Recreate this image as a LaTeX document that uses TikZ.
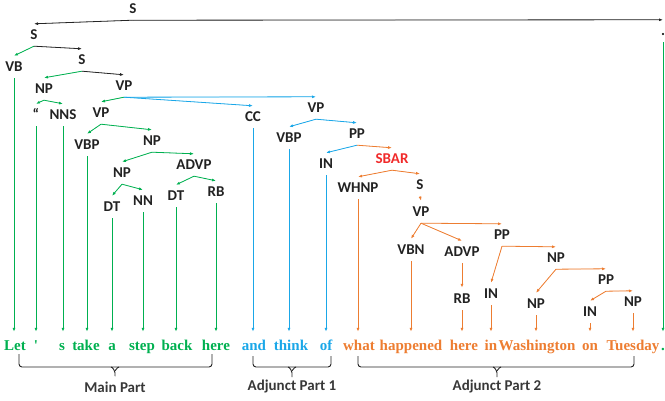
\documentclass[tikz,border=0pt]{standalone}
\usepackage{fontspec}
\setmainfont{Liberation Serif}
\newfontfamily\wordfont{Liberation Serif}[BoldFont={Liberation Serif Bold}]
\newfontfamily\labfont{Carlito}
\usetikzlibrary{arrows.meta}
\definecolor{cgreen}{HTML}{00B050}
\definecolor{cblue}{HTML}{1AA7E8}
\definecolor{corange}{HTML}{ED7D31}
\definecolor{cred}{HTML}{F02A2A}
\definecolor{clab}{HTML}{222222}
\begin{document}
\begin{tikzpicture}[x=1pt,y=-1pt,
  lab/.style={font=\labfont\bfseries\fontsize{15}{15}\selectfont, text=clab, inner xsep=1pt, inner ysep=6.15pt, text height=9.7pt, text depth=0pt, anchor=center},
  word/.style={font=\wordfont\bfseries\fontsize{15}{15}\selectfont, anchor=base, inner xsep=0pt, inner ysep=7.5pt, text height=10.5pt, text depth=3pt},
  edge/.style={line width=0.8pt, -{Latex[length=4pt,width=3pt]}},
  ge/.style={edge, draw=cgreen, fill=cgreen},
  be/.style={edge, draw=cblue, fill=cblue},
  oe/.style={edge, draw=corange, fill=corange},
  ke/.style={edge, draw=black!85, fill=black!85},
  brk/.style={draw=clab, line width=0.9pt, rounded corners=3pt},
  partlab/.style={font=\labfont\bfseries\fontsize{15}{15}\selectfont, text=clab!90, inner sep=0pt, anchor=center}
]
\useasboundingbox (0,0) rectangle (665,401);

% ---- tree labels ----
\node[lab] (s1) at (133,9) {S};
\node[lab] (s2) at (34,35) {S};
\node[lab] (vb) at (14,67) {VB};
\node[lab] (s3) at (82,60) {S};
\node[lab] (np1) at (44,89) {NP};
\node[lab] (vp1) at (124,86) {VP};
\node[lab] (quote) at (36,115) {“};
\node[lab] (nns) at (63,115) {NNS};
\node[lab] (vp2) at (101,113) {VP};
\node[lab] (vbp1) at (87,145) {VBP};
\node[lab] (np2) at (152,141) {NP};
\node[lab] (np3) at (122,173) {NP};
\node[lab] (advp1) at (194,165) {ADVP};
\node[lab] (dt1) at (112,207) {DT};
\node[lab] (nn) at (143,201) {NN};
\node[lab] (dt2) at (176,196) {DT};
\node[lab] (rb1) at (216,192) {RB};
\node[lab] (cc) at (253,117) {CC};
\node[lab] (vp3) at (316,108) {VP};
\node[lab] (vbp2) at (289,138) {VBP};
\node[lab] (pp1) at (357,134) {PP};
\node[lab] (in1) at (326,164) {IN};
\node[lab,text=cred] (sbar) at (392,159) {SBAR};
\node[lab] (whnp) at (358,188) {WHNP};
\node[lab] (s4) at (420,185) {S};
\node[lab] (vp4) at (421,212) {VP};
\node[lab] (vbn) at (411,250) {VBN};
\node[lab] (advp2) at (462,252) {ADVP};
\node[lab] (pp2) at (502,235) {PP};
\node[lab] (rb2) at (462,299) {RB};
\node[lab] (in2) at (491,294) {IN};
\node[lab] (np4) at (556,258) {NP};
\node[lab] (np5) at (536,304) {NP};
\node[lab] (pp3) at (606,280) {PP};
\node[lab] (in3) at (590,312) {IN};
\node[lab] (np6) at (633,302) {NP};
\node[lab] (dot) at (663,31) {.};

% ---- words ----
\node[word,text=cgreen] (w1) at (15,350) {Let};
\node[word,text=cgreen] (w2) at (36,350) {\textquotesingle};
\node[word,text=cgreen] (w3) at (62,350) {s};
\node[word,text=cgreen] (w4) at (86,350) {take};
\node[word,text=cgreen] (w5) at (112,350) {a};
\node[word,text=cgreen] (w6) at (142,350) {step};
\node[word,text=cgreen] (w7) at (177,350) {back};
\node[word,text=cgreen] (w8) at (216,350) {here};
\node[word,text=cblue] (w9) at (254,350) {and};
\node[word,text=cblue] (w10) at (291,350) {think};
\node[word,text=cblue] (w11) at (326,350) {of};
\node[word,text=corange] (w12) at (359,350) {what};
\node[word,text=corange] (w13) at (411,350) {happened};
\node[word,text=corange] (w14) at (464,350) {here};
\node[word,text=corange] (w15) at (491,350) {in};
\node[word,text=corange] (w16) at (537,350) {Washington};
\node[word,text=corange] (w17) at (590,350) {on};
\node[word,text=corange] (w18) at (633,350) {Tuesday};
\node[word,text=cgreen] (w19) at (663,350) {.};

% ---- tree edges ----
\draw[ke] (s1.south) -- (s2.north);
\draw[ke] (s1.south) -- (dot.north);
\draw[ge] (s2.south) -- (vb.north);
\draw[ke] (s2.south) -- (s3.north);
\draw[ge] (s3.south) -- (np1.north);
\draw[ke] (s3.south) -- (vp1.north);
\draw[ge] (np1.south) -- (quote.north);
\draw[ge] (np1.south) -- (nns.north);
\draw[ge] (vp1.south) -- (vp2.north);
\draw[be] (vp1.south) -- (cc.north);
\draw[be] (vp1.south) -- (vp3.north);
\draw[ge] (vp2.south) -- (vbp1.north);
\draw[ge] (vp2.south) -- (np2.north);
\draw[ge] (np2.south) -- (np3.north);
\draw[ge] (np2.south) -- (advp1.north);
\draw[ge] (np3.south) -- (dt1.north);
\draw[ge] (np3.south) -- (nn.north);
\draw[ge] (advp1.south) -- (dt2.north);
\draw[ge] (advp1.south) -- (rb1.north);
\draw[be] (vp3.south) -- (vbp2.north);
\draw[be] (vp3.south) -- (pp1.north);
\draw[be] (pp1.south) -- (in1.north);
\draw[oe] (pp1.south) -- (sbar.north);
\draw[oe] (sbar.south) -- (whnp.north);
\draw[oe] (sbar.south) -- (s4.north);
\draw[oe] (s4.south) -- (vp4.north);
\draw[oe] (vp4.south) -- (vbn.north);
\draw[oe] (vp4.south) -- (advp2.north);
\draw[oe] (vp4.south) -- (pp2.north);
\draw[oe] (advp2.south) -- (rb2.north);
\draw[oe] (pp2.south) -- (in2.north);
\draw[oe] (pp2.south) -- (np4.north);
\draw[oe] (np4.south) -- (np5.north);
\draw[oe] (np4.south) -- (pp3.north);
\draw[oe] (pp3.south) -- (in3.north);
\draw[oe] (pp3.south) -- (np6.north);

% ---- leaf edges ----
\draw[ge] (vb.south) -- (vb.south |- w1.north);
\draw[ge] (quote.south) -- (quote.south |- w2.north);
\draw[ge] (nns.south) -- (nns.south |- w3.north);
\draw[ge] (vbp1.south) -- (vbp1.south |- w4.north);
\draw[ge] (dt1.south) -- (dt1.south |- w5.north);
\draw[ge] (nn.south) -- (nn.south |- w6.north);
\draw[ge] (dt2.south) -- (dt2.south |- w7.north);
\draw[ge] (rb1.south) -- (rb1.south |- w8.north);
\draw[be] (cc.south) -- (cc.south |- w9.north);
\draw[be] (vbp2.south) -- (vbp2.south |- w10.north);
\draw[be] (in1.south) -- (in1.south |- w11.north);
\draw[oe] (whnp.south) -- (whnp.south |- w12.north);
\draw[oe] (vbn.south) -- (vbn.south |- w13.north);
\draw[oe] (rb2.south) -- (rb2.south |- w14.north);
\draw[oe] (in2.south) -- (in2.south |- w15.north);
\draw[oe] (np5.south) -- (np5.south |- w16.north);
\draw[oe] (in3.south) -- (in3.south |- w17.north);
\draw[oe] (np6.south) -- (np6.south |- w18.north);
\draw[ge] (dot.south) -- (dot.south |- w19.north);

% ---- brackets ----
\draw[brk] (19,354) -- (19,367) -- (212,367) -- (212,354);
\draw[brk] (111,367) to[out=0,in=-90] (115,370) -- (115,376);
\draw[brk] (119,367) to[out=180,in=-90] (115,370);
\draw[brk] (253,356) -- (253,367) -- (331,367) -- (331,356);
\draw[brk] (288,367) to[out=0,in=-90] (292,370) -- (292,377);
\draw[brk] (296,367) to[out=180,in=-90] (292,370);
\draw[brk] (358,356) -- (358,367) -- (634,367) -- (634,356);
\draw[brk] (493,367) to[out=0,in=-90] (497,370) -- (497,377);
\draw[brk] (501,367) to[out=180,in=-90] (497,370);
\node[partlab] (main) at (115,387) {Main Part};
\node[partlab] (adj1) at (292,387) {Adjunct Part 1};
\node[partlab] (adj2) at (497,387) {Adjunct Part 2};
\end{tikzpicture}
\end{document}
